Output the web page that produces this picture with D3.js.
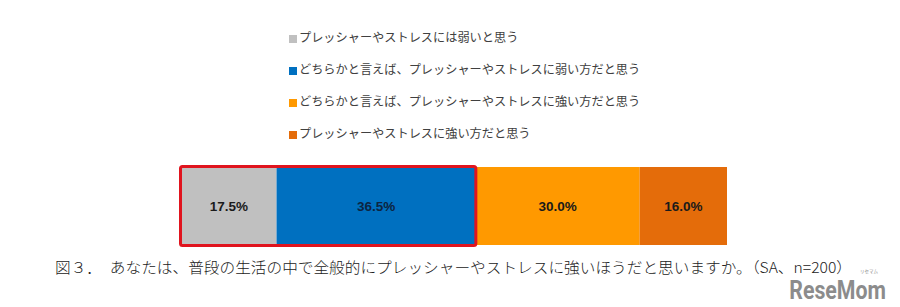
<!DOCTYPE html>
<html>
<head>
<meta charset="utf-8">
<script src="https://cdn.jsdelivr.net/npm/d3@7/dist/d3.min.js"></script>
<style>
  body { margin: 0; background: #fff; }
  svg { display: block; }
</style>
</head>
<body>
<svg width="900" height="307"></svg>
<script>
// データ
const labels = [
    'プレッシャーやストレスには弱いと思う',
    'どちらかと言えば、プレッシャーやストレスに弱い方だと思う',
    'どちらかと言えば、プレッシャーやストレスに強い方だと思う',
    'プレッシャーやストレスに強い方だと思う'
];
const values = [17.5, 36.5, 30.0, 16.0];
const colors = ['#c0c0c0', '#0070c0', '#ff9900', '#e46c0a'];
const category = ['全体'];
const caption = '図３．　あなたは、普段の生活の中で全般的にプレッシャーやストレスに強いほうだと思いますか。（SA、n=200）';

const svg = d3.select('svg');

// 積み上げ用に開始位置を計算
let acc = 0;
const segs = values.map((v, i) => {
    const s = { start: acc, value: v, color: colors[i], label: labels[i] };
    acc += v;
    return s;
});

const x = d3.scaleLinear().domain([0, 100]).range([181, 727]);
const y = d3.scaleBand().domain(category).range([167, 245]);

// 凡例
const ly = d3.scalePoint().domain(labels).range([38, 134]);
const legend = svg.selectAll('g.legend')
    .data(segs)
    .enter()
    .append('g')
    .attr('class', 'legend')
    .attr('transform', d => `translate(289, ${ly(d.label)})`);

legend.append('rect')
    .attr('x', 0)
    .attr('y', -3)
    .attr('width', 8)
    .attr('height', 8)
    .attr('fill', d => d.color);

legend.append('text')
    .attr('x', 10)
    .attr('y', 1)
    .attr('dominant-baseline', 'middle')
    .attr('font-family', '"Noto Sans CJK JP", sans-serif')
    .attr('font-size', 12.2)
    .attr('fill', '#404040')
    .text(d => d.label);

// 棒
svg.selectAll('rect.bar')
    .data(segs)
    .enter()
    .append('rect')
    .attr('class', 'bar')
    .attr('x', d => x(d.start))
    .attr('y', y('全体'))
    .attr('width', d => x(d.start + d.value) - x(d.start))
    .attr('height', y.bandwidth())
    .attr('fill', d => d.color);

svg.selectAll('text.val')
    .data(segs)
    .enter()
    .append('text')
    .attr('class', 'val')
    .attr('x', d => x(d.start + d.value / 2))
    .attr('y', y('全体') + y.bandwidth() / 2 + 1)
    .attr('text-anchor', 'middle')
    .attr('dominant-baseline', 'middle')
    .attr('font-family', 'Arial, "Liberation Sans", sans-serif')
    .attr('font-weight', 'bold')
    .attr('font-size', 13.5)
    .attr('fill', (d, i) => i === 1 ? '#0d2440' : '#1a1a1a')
    .text(d => d.value.toFixed(1) + '%');

// 赤枠（弱い側の合計）
const weak = values[0] + values[1];
svg.append('rect')
    .attr('x', x(0) - 0.5)
    .attr('y', y('全体') - 0.5)
    .attr('width', x(weak) - x(0) + 0.5)
    .attr('height', y.bandwidth() + 1)
    .attr('rx', 2)
    .attr('fill', 'none')
    .attr('stroke', '#e0141e')
    .attr('stroke-width', 3);

// キャプション
svg.append('text')
    .attr('x', 55)
    .attr('y', 269)
    .attr('dominant-baseline', 'middle')
    .attr('font-family', '"Noto Sans CJK JP", serif')
    .attr('font-weight', 300)
    .attr('font-size', 15)
    .attr('fill', '#222')
    .attr('textLength', 797)
    .attr('lengthAdjust', 'spacingAndGlyphs')
    .text(caption);

// ロゴ（縦長に見せるため横方向だけ縮める）
svg.append('text')
    .attr('transform', 'translate(886,299) scale(0.82,1)')
    .attr('text-anchor', 'end')
    .attr('font-family', '"Roboto", sans-serif')
    .attr('font-weight', 'bold')
    .attr('font-size', 26)
    .attr('fill', '#8c8c8c')
    .text('ReseMom');

svg.append('text')
    .attr('x', 878)
    .attr('y', 273)
    .attr('text-anchor', 'end')
    .attr('font-family', '"Noto Sans CJK JP", sans-serif')
    .attr('font-size', 4.5)
    .attr('fill', '#8c8c8c')
    .text('リセマム');
</script>
</body>
</html>
